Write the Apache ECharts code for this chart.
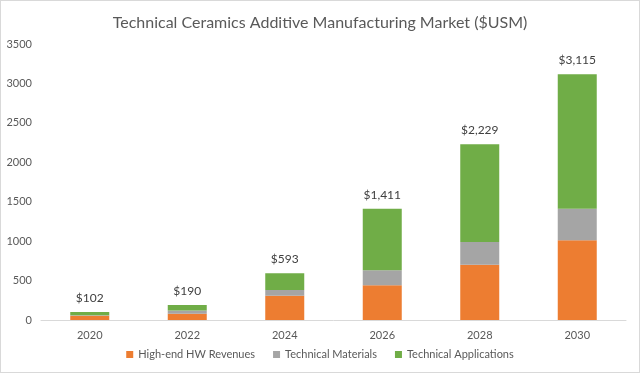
<!DOCTYPE html>
<html>
<head>
<meta charset="utf-8">
<script src="https://cdn.jsdelivr.net/npm/echarts@6/dist/echarts.min.js"></script>
<style>
  html, body { margin: 0; padding: 0; background: #fff; }
  #echart { width: 638px; height: 371px; border: 1px solid #d9d9d9; }
</style>
</head>
<body>
<div id="echart"></div>
<script>
var years = ['2020', '2022', '2024', '2026', '2028', '2030'];
var hwRevenues = [55, 80, 308, 440, 700, 1010];
var techMaterials = [5, 40, 72, 190, 290, 400];
var techApplications = [42, 70, 213, 781, 1239, 1705];
var totals = [102, 190, 593, 1411, 2229, 3115];
var seriesNames = ['High-end HW Revenues', 'Technical Materials', 'Technical Applications'];

var myChart = echarts.init(document.getElementById('echart'));
var textColor = '#595959';
var font = 'Lato';

myChart.setOption({
    animation: false,
    title: {
        text: 'Technical Ceramics Additive Manufacturing Market ($USM)',
        left: 'center',
        top: 9,
        textStyle: { fontFamily: font, fontSize: 16, fontWeight: 'normal', color: textColor }
    },
    legend: {
        bottom: 7,
        left: 'center',
        itemWidth: 7,
        itemHeight: 7,
        itemGap: 18,
        icon: 'rect',
        textStyle: { fontFamily: font, fontSize: 11, color: textColor },
        data: seriesNames
    },
    grid: { left: 40, right: 13, top: 43, bottom: 52 },
    xAxis: {
        type: 'category',
        data: years,
        axisLine: { lineStyle: { color: '#d9d9d9' } },
        axisTick: { show: false },
        axisLabel: { fontFamily: font, fontSize: 11, color: textColor, margin: 10 }
    },
    yAxis: {
        type: 'value',
        min: 0,
        max: 3500,
        interval: 500,
        splitLine: { show: false },
        axisLine: { show: false },
        axisTick: { show: false },
        axisLabel: {
            fontFamily: font, fontSize: 11, color: textColor, margin: 9,
            formatter: function (v) { return String(v); }
        }
    },
    series: [
        {
            name: seriesNames[0], type: 'bar', stack: 'total', barWidth: '40%',
            itemStyle: { color: '#ED7D31' }, data: hwRevenues
        },
        {
            name: seriesNames[1], type: 'bar', stack: 'total',
            itemStyle: { color: '#A5A5A5' }, data: techMaterials
        },
        {
            name: seriesNames[2], type: 'bar', stack: 'total',
            itemStyle: { color: '#70AD47' }, data: techApplications,
            label: {
                show: true,
                position: 'top',
                distance: 8,
                fontFamily: font,
                fontSize: 12,
                color: '#404040',
                formatter: function (p) {
                    return '$' + totals[p.dataIndex].toLocaleString('en-US');
                }
            }
        }
    ]
});
</script>
</body>
</html>
